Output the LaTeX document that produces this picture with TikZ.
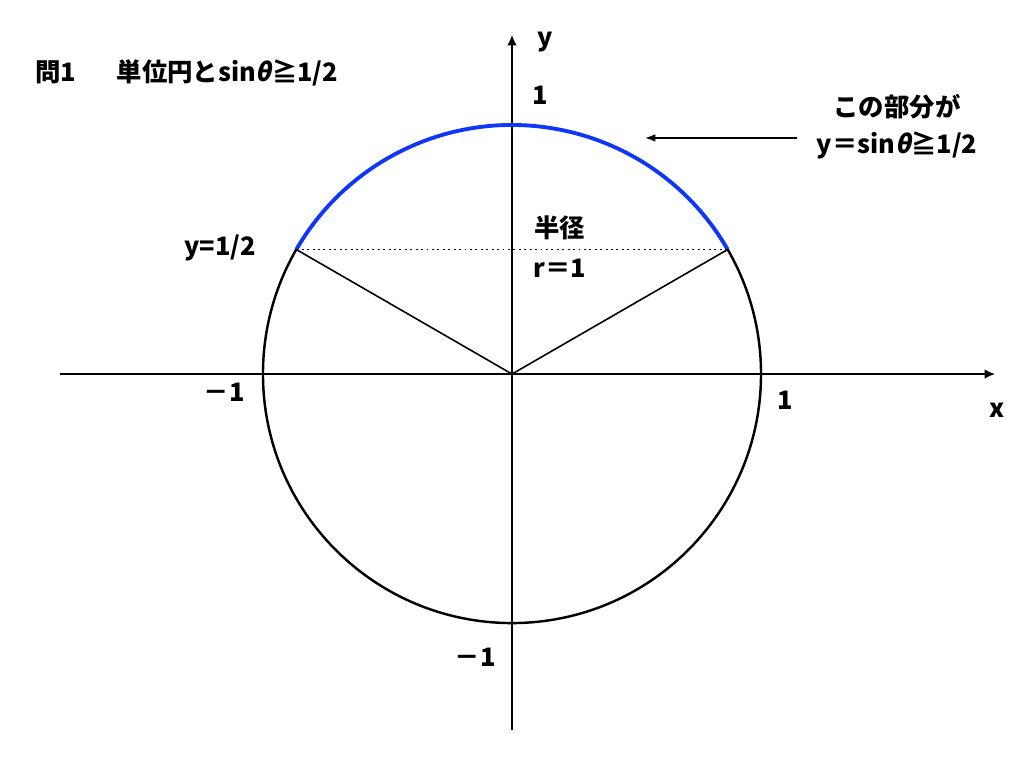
\documentclass[tikz,border=0pt]{standalone}
\usepackage{fontspec}
\setmainfont{Noto Sans CJK JP}
\newfontfamily\slfont[FakeSlant=0.2]{Noto Sans CJK JP}
\usetikzlibrary{arrows.meta}
\definecolor{arcblue}{RGB}{15,55,250}
\newcommand{\thet}{{\slfont\bfseries θ}}
\begin{document}
\begin{tikzpicture}[font=\fontsize{14.5}{21}\selectfont\bfseries]
	\tikzset{axis/.style={-{Latex[length=6pt,width=5.5pt]}, line width=1pt}}
	\tikzset{pointer/.style={-{Latex[length=6pt,width=4.5pt]}, line width=0.9pt}}
	\tikzset{lbl/.style={inner sep=0pt}}
	\useasboundingbox (-10.28,-7.91) rectangle (10.28,7.51);
	% axes
	\coordinate (O) at (0,0);
	\coordinate (xl) at (-9.08,0);
	\coordinate (xr) at (9.70,0);
	\coordinate (yb) at (0,-7.15);
	\coordinate (yt) at (0,6.81);
	\draw [axis] (xl) -- (xr);
	\draw [axis] (yb) -- (yt);
	% unit circle
	\draw [line width=1.4pt] (O) circle (5);
	\draw [arcblue, line width=2.2pt] (30:5) arc (30:150:5);
	\coordinate (P) at (30:5);
	\coordinate (Q) at (150:5);
	\draw [line width=0.9pt] (Q) -- (O) -- (P);
	\draw [dotted, line width=1.1pt] (Q) -- (P);
	% labels
	\node [lbl, anchor=west] (title) at (-9.58,6.04) {問1\hspace{1.6em}単位円とsin\thet≧1/2};
	\node [lbl] (ylab) at (0.66,6.67) {y};
	\node [lbl] (ytop) at (0.56,5.60) {1};
	\node [lbl] (ybot) at (-0.74,-5.68) {－1};
	\node [lbl] (xleft) at (-5.78,-0.36) {－1};
	\node [lbl] (xright) at (5.48,-0.52) {1};
	\node [lbl] (xlab) at (9.74,-0.72) {x};
	\node [lbl] (half) at (-5.86,2.53) {y=1/2};
	\node [lbl] (radius) at (0.96,2.93) {半径};
	\node [lbl] (rval) at (0.96,2.13) {r＝1};
	\node [lbl, align=center] (note) at (7.73,4.97) {この部分が\\y＝sin\thet≧1/2};
	\coordinate (tail) at (5.72,4.74);
	\coordinate (head) at (2.67,4.74);
	\draw [pointer] (tail) -- (head);
\end{tikzpicture}
\end{document}
